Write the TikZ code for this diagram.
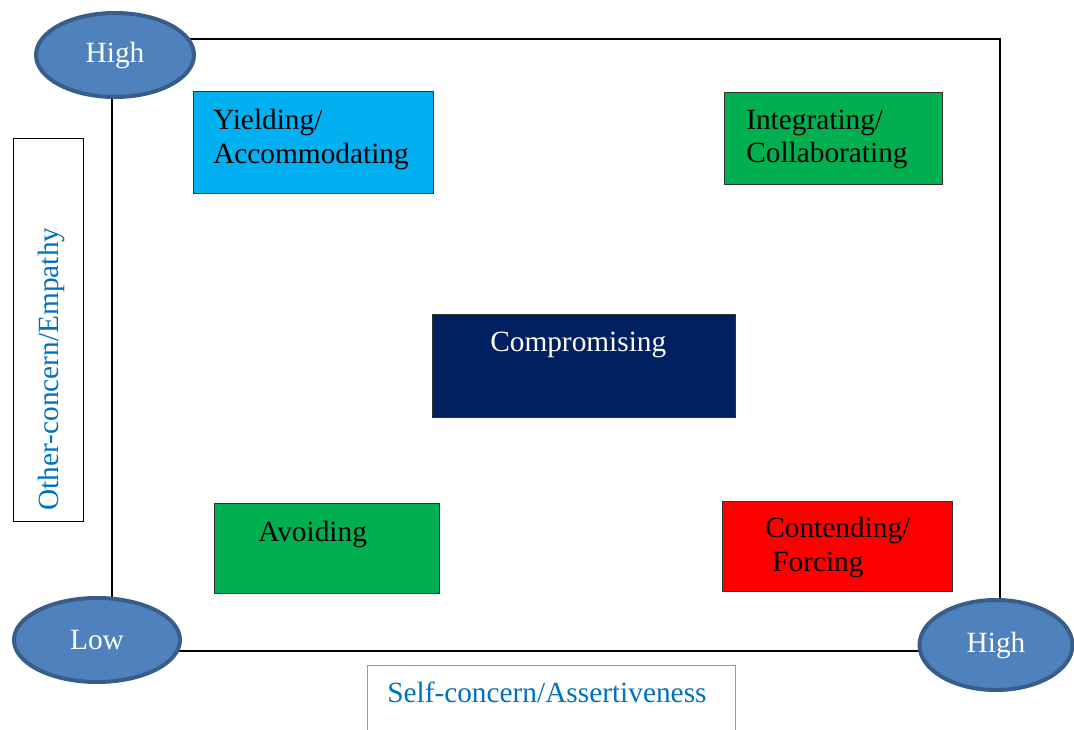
\documentclass[tikz,border=0pt]{standalone}
\usepackage{fontspec}
\setmainfont{Liberation Serif}
\usetikzlibrary{shapes.geometric}
\definecolor{ovalblue}{HTML}{4F81BD}
\definecolor{ovaledge}{HTML}{385D8A}
\definecolor{cyanbox}{HTML}{00B0F0}
\definecolor{greenbox}{HTML}{00B050}
\definecolor{navybox}{HTML}{002060}
\definecolor{labelblue}{HTML}{0070C0}
\begin{document}
\begin{tikzpicture}[x=0.75pt,y=-0.75pt,
  level/.style={ellipse,fill=ovalblue,draw=ovaledge,line width=3pt,inner sep=0pt,
    text=white,font=\fontsize{22}{26}\selectfont},
  stylebox/.style={rectangle,draw=black!80,line width=0.75pt,inner sep=0pt},
  word/.style={inner sep=0pt,anchor=base west,font=\fontsize{22}{26}\selectfont}]
\useasboundingbox (0,0) rectangle (1074,730);
\coordinate (TL) at (112,39);
\coordinate (TR) at (1000,39);
\coordinate (BR) at (1000,651);
\coordinate (BL) at (112,651);
\draw[line width=1.5pt] (TL) -- (TR) -- (BR) -- (BL) -- cycle;
\node[level,minimum width=118.5pt,minimum height=63pt] (highOther) at (115,55) {High};
\node[level,minimum width=124.5pt,minimum height=63pt] (low) at (97,640) {Low};
\node[level,minimum width=114.75pt,minimum height=67.5pt] (highSelf) at (996,645) {High};
\node[stylebox,fill=cyanbox,minimum width=180pt,minimum height=76.5pt] (yielding) at (313,143) {};
\node[stylebox,fill=greenbox,minimum width=163.5pt,minimum height=69pt] (integrating) at (833,139) {};
\node[stylebox,fill=navybox,minimum width=227.25pt,minimum height=77.25pt] (compromising) at (583.5,366.5) {};
\node[stylebox,fill=greenbox,minimum width=168.75pt,minimum height=67.5pt] (avoiding) at (326.5,548) {};
\node[stylebox,fill=red,minimum width=172.5pt,minimum height=67.5pt] (contending) at (837,546) {};
\node[word] (yieldingA) at (213,130) {Yielding/};
\node[word] (yieldingB) at (213,164) {Accommodating};
\node[word] (integratingA) at (746,130) {Integrating/};
\node[word] (integratingB) at (746,163) {Collaborating};
\node[word,text=white] (compromisingA) at (490,352) {Compromising};
\node[word] (avoidingA) at (258,541) {Avoiding};
\node[word] (contendingA) at (765,537) {Contending/};
\node[word] (contendingB) at (772,571) {Forcing};
\node[stylebox,draw=black,minimum width=52.5pt,minimum height=286.5pt] (otherBox) at (48,330) {};
\node[word,anchor=base,rotate=90,text=labelblue] (otherLabel) at (58,369) {Other-concern/Empathy};
\node[stylebox,draw=ovalblue!75,minimum width=276pt,minimum height=60pt] (selfBox) at (551,705) {};
\node[word,text=labelblue] (selfLabel) at (387,702) {Self-concern/Assertiveness};
\end{tikzpicture}
\end{document}
